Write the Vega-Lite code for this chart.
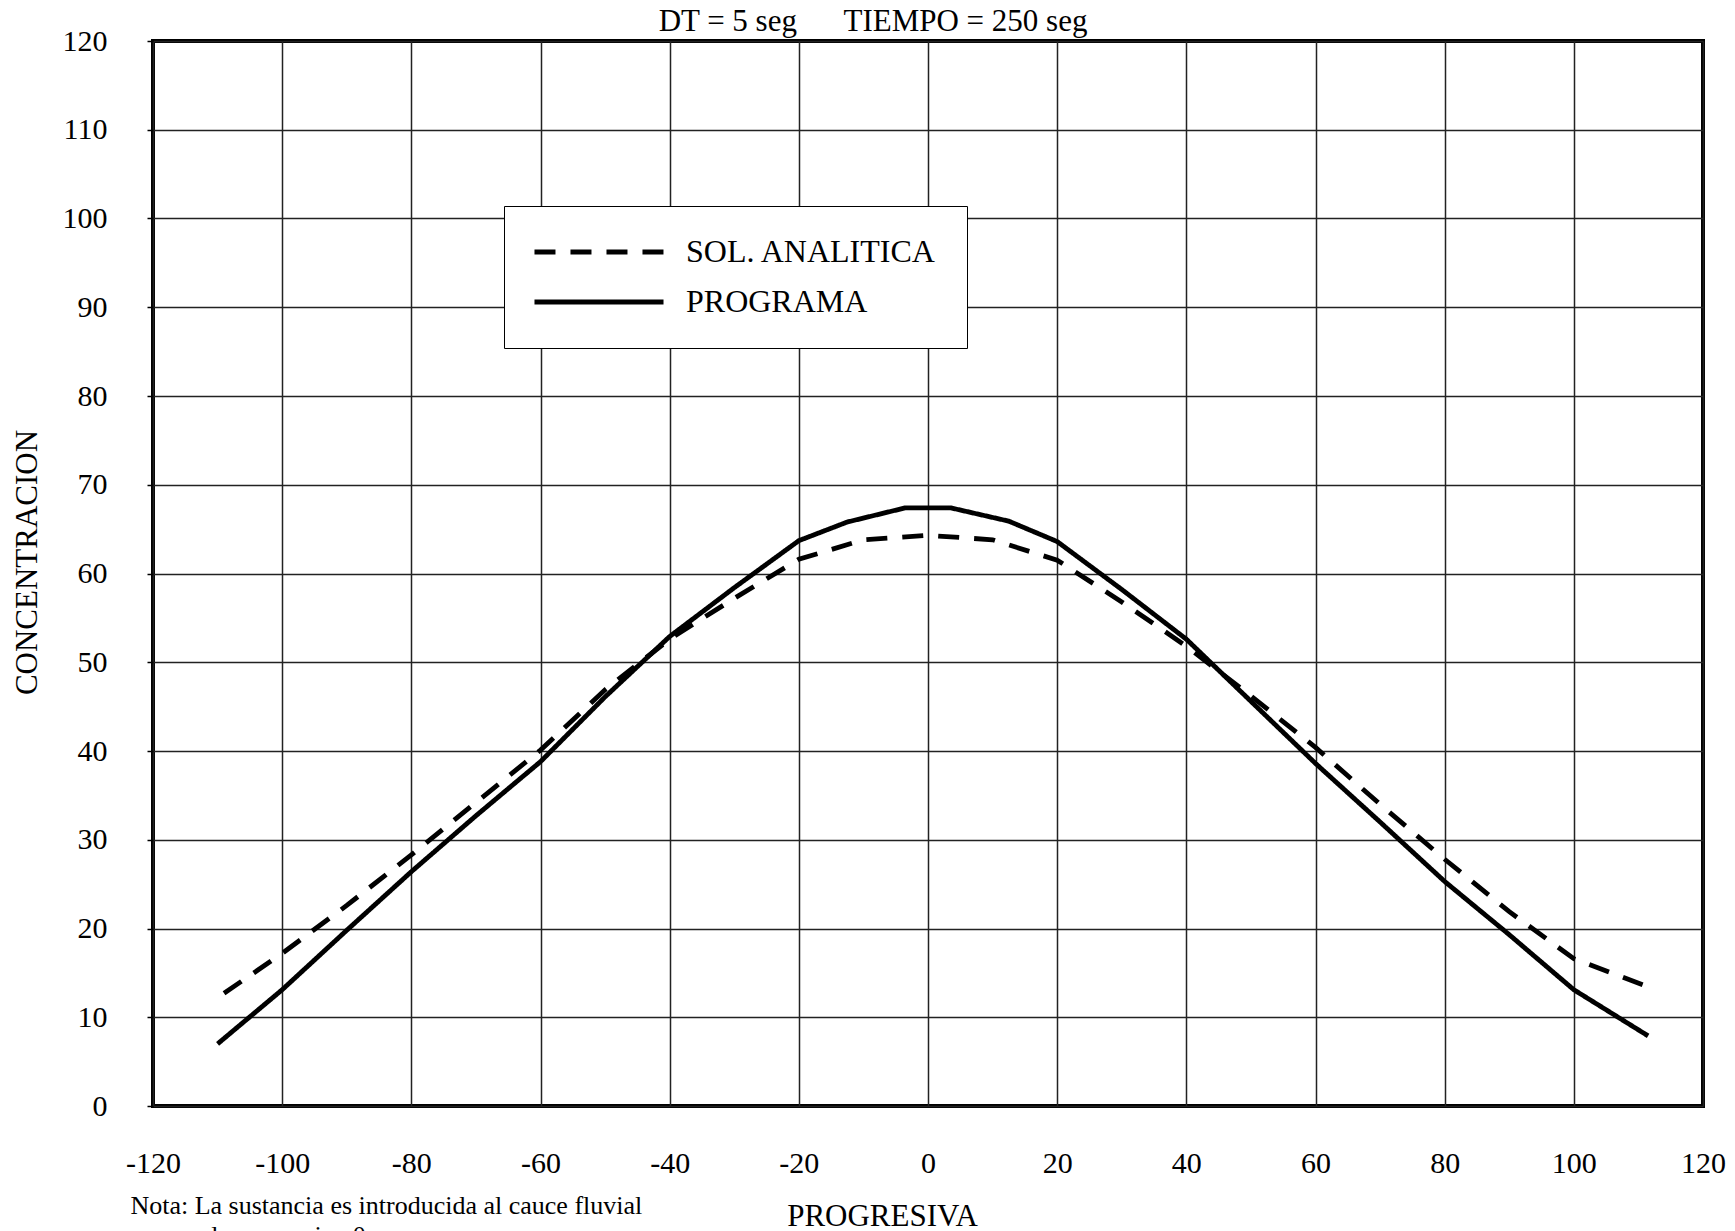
{
  "$schema": "https://vega.github.io/schema/vega-lite/v6.json",
  "width": 1550,
  "height": 1065,
  "autosize": {"type": "none"},
  "padding": {"left": 153, "top": 41, "right": 32, "bottom": 125},
  "background": "white",
  "title": {
    "text": "DT = 5 seg\u00a0\u00a0\u00a0\u00a0\u00a0\u00a0TIEMPO = 250 seg",
    "font": "Liberation Serif",
    "fontSize": 31,
    "fontWeight": "normal",
    "color": "black",
    "anchor": "middle",
    "dx": -55,
    "dy": 16,
    "offset": 4
  },
  "config": {
    "view": {"stroke": "black", "strokeWidth": 4},
    "axis": {
      "labelFont": "Liberation Serif",
      "titleFont": "Liberation Serif",
      "labelColor": "black",
      "titleColor": "black",
      "titleFontWeight": "normal",
      "gridColor": "#222222",
      "gridWidth": 1.5,
      "gridOpacity": 1,
      "domain": false
    }
  },
  "layer": [
    {
      "data": {
        "values": [
          {"x": -109, "y": 12.7, "serie": "SOL. ANALITICA"},
          {"x": -100, "y": 17.2, "serie": "SOL. ANALITICA"},
          {"x": -90, "y": 22.6, "serie": "SOL. ANALITICA"},
          {"x": -80, "y": 28.3, "serie": "SOL. ANALITICA"},
          {"x": -70, "y": 34.2, "serie": "SOL. ANALITICA"},
          {"x": -60, "y": 40.1, "serie": "SOL. ANALITICA"},
          {"x": -50, "y": 46.9, "serie": "SOL. ANALITICA"},
          {"x": -40, "y": 52.6, "serie": "SOL. ANALITICA"},
          {"x": -30, "y": 57.2, "serie": "SOL. ANALITICA"},
          {"x": -20, "y": 61.6, "serie": "SOL. ANALITICA"},
          {"x": -10, "y": 63.8, "serie": "SOL. ANALITICA"},
          {"x": 0, "y": 64.3, "serie": "SOL. ANALITICA"},
          {"x": 10, "y": 63.8, "serie": "SOL. ANALITICA"},
          {"x": 20, "y": 61.5, "serie": "SOL. ANALITICA"},
          {"x": 30, "y": 56.8, "serie": "SOL. ANALITICA"},
          {"x": 40, "y": 51.8, "serie": "SOL. ANALITICA"},
          {"x": 50, "y": 46.2, "serie": "SOL. ANALITICA"},
          {"x": 60, "y": 40.4, "serie": "SOL. ANALITICA"},
          {"x": 70, "y": 34.0, "serie": "SOL. ANALITICA"},
          {"x": 80, "y": 27.8, "serie": "SOL. ANALITICA"},
          {"x": 90, "y": 21.9, "serie": "SOL. ANALITICA"},
          {"x": 100, "y": 16.6, "serie": "SOL. ANALITICA"},
          {"x": 112, "y": 13.3, "serie": "SOL. ANALITICA"},
          {"x": -110, "y": 7.0, "serie": "PROGRAMA"},
          {"x": -100, "y": 13.1, "serie": "PROGRAMA"},
          {"x": -90, "y": 19.8, "serie": "PROGRAMA"},
          {"x": -80, "y": 26.4, "serie": "PROGRAMA"},
          {"x": -70, "y": 32.7, "serie": "PROGRAMA"},
          {"x": -60, "y": 38.8, "serie": "PROGRAMA"},
          {"x": -50, "y": 46.1, "serie": "PROGRAMA"},
          {"x": -40, "y": 52.9, "serie": "PROGRAMA"},
          {"x": -30, "y": 58.4, "serie": "PROGRAMA"},
          {"x": -20, "y": 63.7, "serie": "PROGRAMA"},
          {"x": -12.5, "y": 65.8, "serie": "PROGRAMA"},
          {"x": -3.5, "y": 67.4, "serie": "PROGRAMA"},
          {"x": 3.5, "y": 67.4, "serie": "PROGRAMA"},
          {"x": 12.5, "y": 65.9, "serie": "PROGRAMA"},
          {"x": 20, "y": 63.6, "serie": "PROGRAMA"},
          {"x": 30, "y": 58.2, "serie": "PROGRAMA"},
          {"x": 40, "y": 52.6, "serie": "PROGRAMA"},
          {"x": 50, "y": 45.6, "serie": "PROGRAMA"},
          {"x": 60, "y": 38.6, "serie": "PROGRAMA"},
          {"x": 70, "y": 32.0, "serie": "PROGRAMA"},
          {"x": 80, "y": 25.3, "serie": "PROGRAMA"},
          {"x": 90, "y": 19.3, "serie": "PROGRAMA"},
          {"x": 100, "y": 13.1, "serie": "PROGRAMA"},
          {"x": 111.5, "y": 7.9, "serie": "PROGRAMA"}
        ]
      },
      "mark": {"type": "line", "color": "black", "strokeWidth": 4.8, "strokeCap": "butt", "clip": false},
      "encoding": {
        "x": {
          "field": "x",
          "type": "quantitative",
          "scale": {"domain": [-120, 120], "nice": false, "zero": false},
          "axis": {
            "values": [-120, -100, -80, -60, -40, -20, 0, 20, 40, 60, 80, 100, 120],
            "labelExpr": "'' + datum.value",
            "ticks": false,
            "labelFontSize": 30,
            "labelPadding": 42,
            "labelFlush": false,
            "labelOverlap": false,
            "title": "PROGRESIVA",
            "titleFontSize": 31,
            "titleX": 729,
            "titleY": 119,
            "titleBaseline": "alphabetic"
          }
        },
        "y": {
          "field": "y",
          "type": "quantitative",
          "scale": {"domain": [0, 120], "nice": false},
          "axis": {
            "values": [0, 10, 20, 30, 40, 50, 60, 70, 80, 90, 100, 110, 120],
            "ticks": true,
            "tickSize": 6,
            "tickColor": "black",
            "tickWidth": 1.5,
            "labelFontSize": 30,
            "labelPadding": 40,
            "labelFlush": false,
            "labelOverlap": false,
            "title": "CONCENTRACION",
            "titleFontSize": 31,
            "titleX": -126,
            "titleY": 521,
            "titleBaseline": "middle",
            "titleAngle": -90
          }
        },
        "strokeDash": {
          "field": "serie",
          "type": "nominal",
          "scale": {"domain": ["SOL. ANALITICA", "PROGRAMA"], "range": [[21, 15], [1, 0]]},
          "legend": {
            "title": null,
            "orient": "none",
            "legendX": 351,
            "legendY": 165,
            "fillColor": "white",
            "strokeColor": "black",
            "padding": 30,
            "symbolType": "M-5,0H5",
            "symbolSize": 666,
            "symbolStrokeWidth": 4.8,
            "symbolStrokeColor": "black",
            "symbolOffset": 49,
            "labelFont": "Liberation Serif",
            "labelFontSize": 32,
            "labelColor": "black",
            "labelOffset": 71,
            "rowPadding": 18,
            "labelLimit": 500
          }
        }
      }
    },
    {
      "data": {"values": [{"nota": "Nota: La sustancia es introducida al cauce fluvial"}]},
      "mark": {"type": "text", "align": "left", "baseline": "middle", "font": "Liberation Serif", "fontSize": 26, "color": "black", "clip": false},
      "encoding": {
        "x": {"datum": -123.5, "type": "quantitative"},
        "y": {"datum": -11.3, "type": "quantitative"},
        "text": {"field": "nota"}
      }
    },
    {
      "data": {"values": [{"nota": "en la progresiva 0"}]},
      "mark": {"type": "text", "align": "left", "baseline": "middle", "font": "Liberation Serif", "fontSize": 26, "color": "black", "clip": false},
      "encoding": {
        "x": {"datum": -115.8, "type": "quantitative"},
        "y": {"datum": -14.6, "type": "quantitative"},
        "text": {"field": "nota"}
      }
    }
  ]
}
